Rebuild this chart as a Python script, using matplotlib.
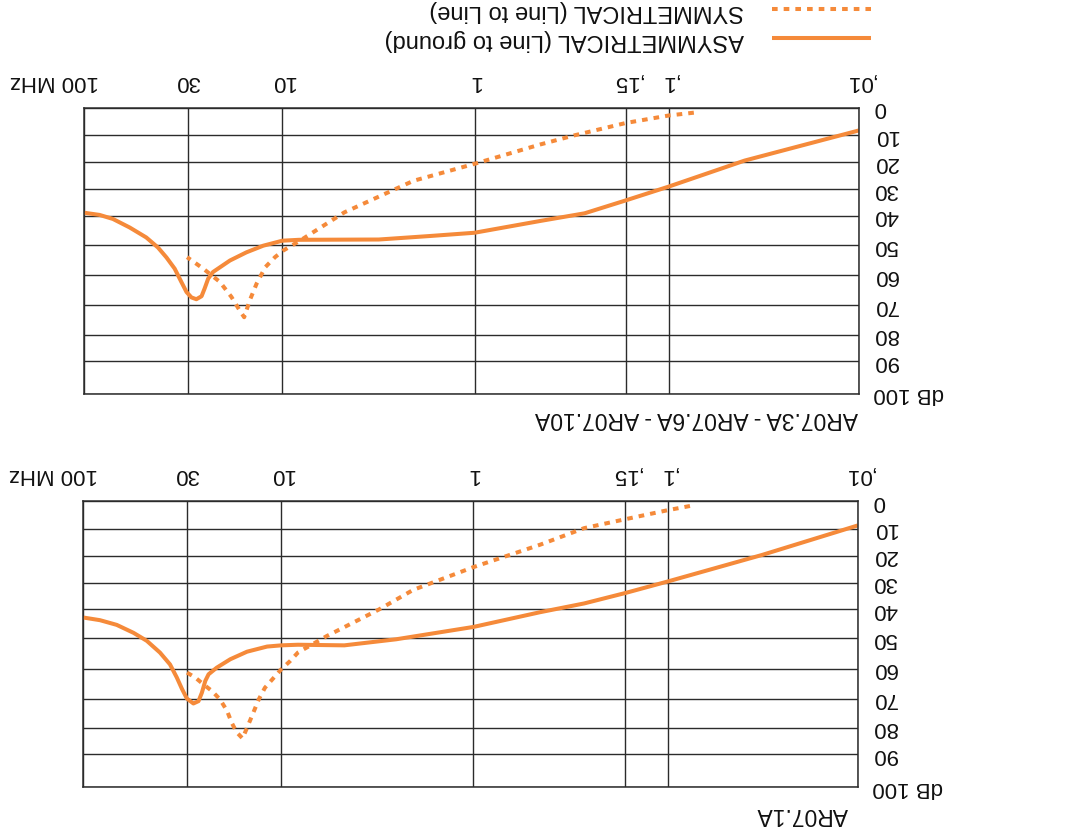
import numpy as np
import matplotlib
matplotlib.use("Agg")
import matplotlib.pyplot as plt
from matplotlib.transforms import ScaledTranslation

plt.rcParams['font.family'] = ['Liberation Sans', 'DejaVu Sans']

# axis ticks / labels (the printed chart uses commas as decimal marks)
freq_ticks = [0.01, 0.1, 0.15, 1, 10, 30, 100]
freq_labels = [",01", ",1", ",15", "1", "10", "30", "100 MHz"]
db_ticks = [0, 10, 20, 30, 40, 50, 60, 70, 80, 90, 100]
db_labels = ["0", "10", "20", "30", "40", "50", "60", "70", "80", "90", "dB 100"]

series_names = ["SYMMETRICAL (Line to Line)", "ASYMMETRICAL (Line to ground)"]
titles = ["AR07.3A - AR07.6A - AR07.10A", "AR07.1A"]

# AR07.3A / 6A / 10A  (frequency in MHz, attenuation in dB)
asym_f_a = [0.01, 0.040, 0.1, 0.15, 0.252, 0.44, 1, 1.7, 3.15, 8.2, 10, 12.5, 15.2,
            18.4, 22.4, 23.7, 24.7, 25.6, 27.2, 28.8, 30.5, 32.4, 35.0, 38.5, 42.5,
            48.7, 59.1, 71.8, 83.9, 100]
asym_db_a = [8.2, 19.4, 29.0, 34.2, 39.1, 41.8, 45.8, 46.9, 48.1, 48.2, 48.5, 50.2, 52.4,
             55.1, 58.9, 61.1, 64.4, 67.0, 68.0, 67.4, 65.6, 62.2, 57.8, 54.1, 50.8,
             47.4, 44.0, 41.1, 39.7, 38.9]
sym_f_a = [0.074, 0.1, 0.15, 0.287, 0.44, 1, 2.08, 4.76, 7.8, 8.8, 9.9, 10.9, 12.2,
           13.5, 14.6, 15.6, 16.5, 18.1, 20.7, 25.1, 30.3]
sym_db_a = [1.8, 2.8, 5.5, 10.0, 13.4, 20.6, 26.9, 38.75, 47.8, 49.9, 51.8, 54.0, 57.3,
            62.8, 68.3, 74.1, 71.6, 67.2, 62.2, 57.8, 54.0]

# AR07.1A
asym_f_b = [0.01, 0.032, 0.1, 0.15, 0.25, 0.435, 1, 2.53, 4.7, 8.2, 10, 11.8, 14.9,
            18.1, 21.2, 23.3, 24.2, 25.2, 26.2, 27.8, 30.0, 31.8, 33.7, 36.5, 41.0,
            47.8, 55.8, 67.8, 82.4, 100]
asym_db_b = [8.8, 19.8, 29.6, 34.0, 37.9, 41.1, 46.1, 50.3, 52.3, 52.1, 52.3, 52.7, 54.4,
             56.9, 59.7, 61.9, 64.1, 68.1, 70.9, 71.7, 70.0, 66.7, 63.0, 58.6, 54.7,
             50.8, 48.1, 45.4, 43.8, 42.9]
sym_f_b = [0.0766, 0.1, 0.15, 0.25, 0.435, 1, 2.06, 3.11, 5.8, 8.2, 9.0, 10, 10.9,
           12.1, 13.0, 14.1, 14.9, 15.7, 16.8, 17.8, 18.8, 20.4, 22.4, 24.7, 27.2, 30]
sym_db_b = [1.8, 3.3, 6.6, 9.8, 16.0, 24.3, 32.8, 40.2, 49.2, 54.7, 57.5, 60.2, 63.0,
            66.4, 70.3, 76.1, 80.0, 84.0, 81.7, 78.3, 74.2, 70.3, 67.5, 65.3, 63.0, 61.3]

ORANGE = '#F58A3A'
GRID = '#2b2b2b'
INK = '#111111'

# the scanned grid is not evenly ruled, so both axes use piecewise scales
# x knots: log10(MHz) -> px from the 0.01 MHz edge
LOG_KNOTS = [-6, -2, -1, np.log10(0.15), 0, 1, 2, 6]
XPOS_KNOTS = [-760, 0, 190, 233, 384.5, 576.6, 774.6, 1566.6]
# y knots: dB -> px from the 0 dB line
DB_KNOTS = [-100, 0, 10, 20, 30, 40, 50, 60, 70, 80, 90, 100, 200]
YPOS_KNOTS = [-286, 0, 27.7, 54.5, 81.5, 108, 137.4, 167.6, 197.5, 226.8, 253.3, 286, 572]


def x_fwd(f):
    f = np.clip(np.asarray(f, dtype=float), 1e-9, None)
    return np.interp(np.log10(f), LOG_KNOTS, XPOS_KNOTS)


def x_inv(p):
    return 10 ** np.interp(np.asarray(p, dtype=float), XPOS_KNOTS, LOG_KNOTS)


def y_fwd(v):
    return np.interp(np.asarray(v, dtype=float), DB_KNOTS, YPOS_KNOTS)


def y_inv(p):
    return np.interp(np.asarray(p, dtype=float), YPOS_KNOTS, DB_KNOTS)


W, H = 1075, 840
fig = plt.figure(figsize=(W / 100, H / 100), dpi=100)


def px_axes(x0, x1, y0, y1):
    return fig.add_axes([x0 / W, 1 - y1 / H, (x1 - x0) / W, (y1 - y0) / H])


ax_a = px_axes(84.4, 859, 107.7, 393.7)
ax_b = px_axes(83.3, 858, 501, 787)

panels = [
    (ax_a, asym_f_a, asym_db_a, sym_f_a, sym_db_a),
    (ax_b, asym_f_b, asym_db_b, sym_f_b, sym_db_b),
]

for ax, af, adb, sf, sdb in panels:
    ax.set_xscale('function', functions=(x_fwd, x_inv))
    ax.set_yscale('function', functions=(y_fwd, y_inv))
    ax.set_xlim(100, 0.01)
    ax.set_ylim(100, 0)

    sym_line, = ax.plot(sf, sdb, color=ORANGE, lw=2.9, linestyle=(0, (1.4, 1.5)),
                        dash_capstyle='butt', label=series_names[0])
    asym_line, = ax.plot(af, adb, color=ORANGE, lw=2.9, solid_capstyle='butt',
                         solid_joinstyle='round', label=series_names[1])

    ax.set_xticks(freq_ticks)
    ax.set_xticklabels(freq_labels)
    ax.set_xticks([], minor=True)
    ax.set_yticks(db_ticks)
    ax.set_yticklabels(db_labels)
    ax.set_yticks([], minor=True)
    ax.xaxis.tick_top()
    ax.yaxis.tick_right()
    ax.tick_params(length=0, labelsize=16, colors=INK)
    ax.tick_params(axis='x', pad=11.5)
    ax.tick_params(axis='y', pad=10.5)
    ax.grid(True, color=GRID, lw=1.0)
    for s in ax.spines.values():
        s.set_color(GRID)
        s.set_linewidth(1.1)

    for lbl in ax.get_xticklabels():
        lbl.set_rotation(180)
    for lbl in ax.get_yticklabels():
        lbl.set_rotation(180)
        lbl.set_va('center')
    # "100 MHz": the number sits on the tick, the unit runs past it
    last = ax.get_xticklabels()[-1]
    last.set_ha('right')
    last.set_transform(last.get_transform() + ScaledTranslation(15 / 100, 0, fig.dpi_scale_trans))

fig.text(858 / W, 1 - 418 / H, titles[0], rotation=180, ha='right', va='center',
         fontsize=16.5, color=INK)
fig.text(848 / W, 1 - 815 / H, titles[1], rotation=180, ha='right', va='center',
         fontsize=16.5, color=INK)

leg = fig.legend(handles=[sym_line, asym_line], loc='upper right',
                 bbox_to_anchor=(871 / W, 1 - 0 / H), frameon=False, markerfirst=False,
                 fontsize=17, handlelength=4.2, handletextpad=1.2, labelspacing=0.3,
                 borderpad=0, borderaxespad=0)
for t in leg.get_texts():
    t.set_rotation(180)
    t.set_color(INK)

fig.savefig("out.png", dpi=100, facecolor='white')
